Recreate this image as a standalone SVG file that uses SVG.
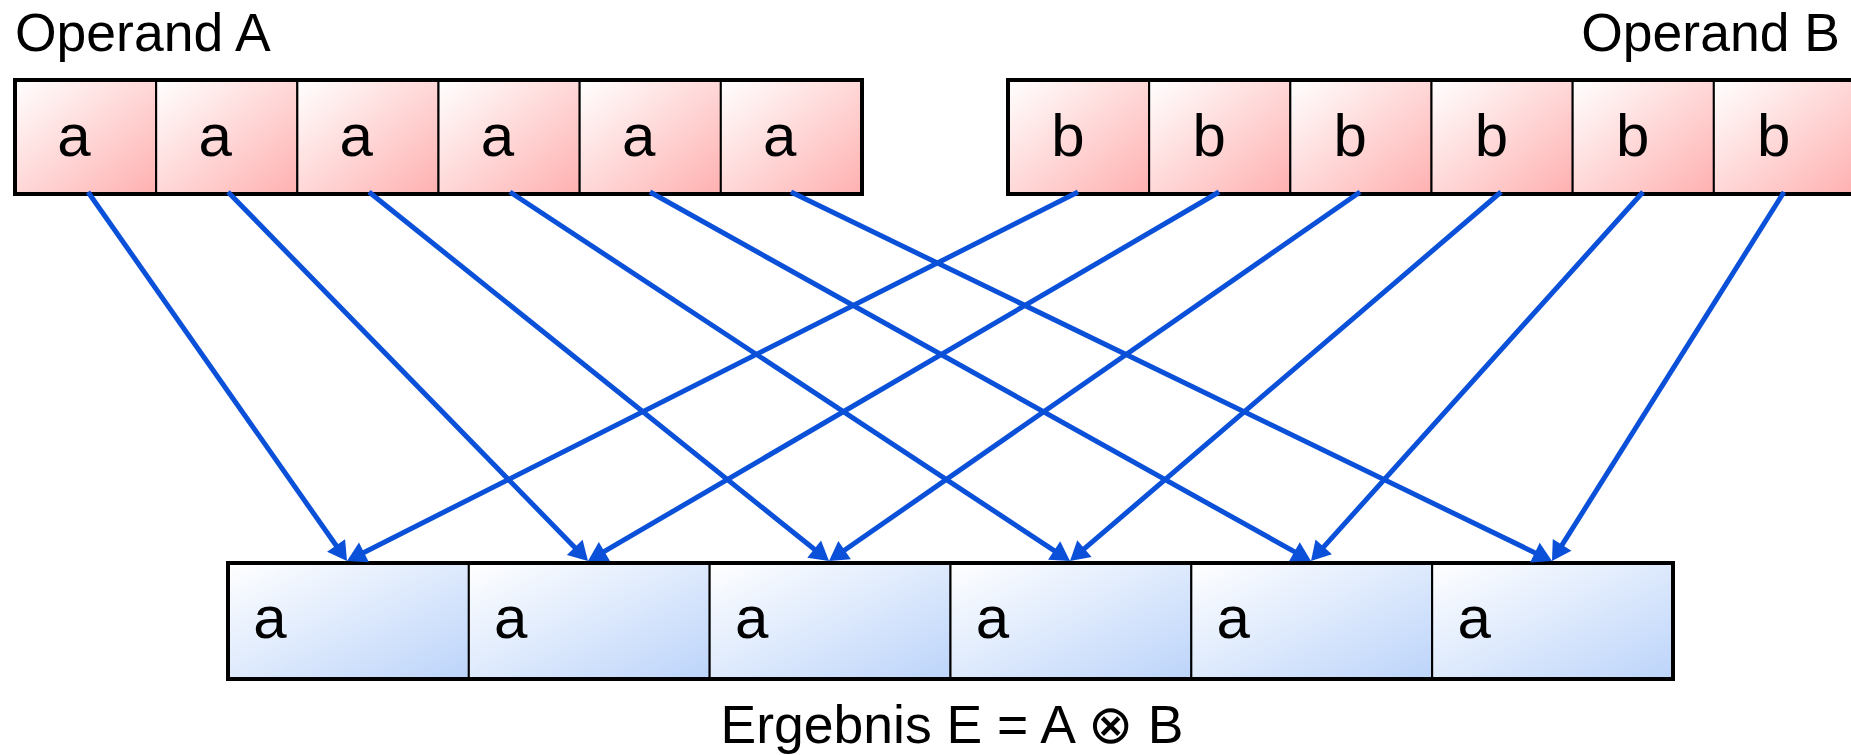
<svg xmlns="http://www.w3.org/2000/svg" width="1851" height="755" viewBox="0 0 1851 755">
  <style>
    .lbl { font-family: "Liberation Sans", Arial, sans-serif; font-size: 53.5px; fill: #000; }
    .op { font-family: "DejaVu Sans", sans-serif; font-weight: 200; }
    .cell-txt { font-family: "Liberation Sans", Arial, sans-serif; font-size: 60px; fill: #000; text-anchor: middle; }
    .red { fill: url(#gradRed); stroke: #000; stroke-width: 2; }
    .blue { fill: url(#gradBlue); stroke: #000; stroke-width: 2; }
    .frame { fill: none; stroke: #000; stroke-width: 4; }
    .conn { stroke: #0a50d8; stroke-width: 5; fill: none; marker-end: url(#arrow); }
  </style>
  <defs>
    <linearGradient id="gradRed" x1="0" y1="0" x2="1" y2="1">
      <stop offset="0" stop-color="#ffffff"/>
      <stop offset="1" stop-color="#ffb0b0"/>
    </linearGradient>
    <linearGradient id="gradBlue" x1="0" y1="0" x2="1" y2="1">
      <stop offset="0" stop-color="#ffffff"/>
      <stop offset="1" stop-color="#bcd4fa"/>
    </linearGradient>
    <marker id="arrow" markerUnits="userSpaceOnUse" markerWidth="30" markerHeight="30" refX="5" refY="0" orient="auto" overflow="visible">
      <path d="M0,-11 L19,0 L0,11 z" fill="#0a50d8"/>
    </marker>
  </defs>

  <!-- Titles -->
  <text class="lbl" x="15" y="51">Operand A</text>
  <text class="lbl" x="1840" y="51" text-anchor="end">Operand B</text>
  <text class="lbl" x="952" y="743" text-anchor="middle">Ergebnis E = A <tspan class="op">⊗</tspan> B</text>

  <!-- Operand A register -->
  <g id="operandA">
    <g id="a1"><rect class="red" x="15" y="80" width="141.17" height="114"/><text class="cell-txt" x="74" y="156">a</text></g>
    <g id="a2"><rect class="red" x="156.17" y="80" width="141.17" height="114"/><text class="cell-txt" x="215.2" y="156">a</text></g>
    <g id="a3"><rect class="red" x="297.33" y="80" width="141.17" height="114"/><text class="cell-txt" x="356.3" y="156">a</text></g>
    <g id="a4"><rect class="red" x="438.5" y="80" width="141.17" height="114"/><text class="cell-txt" x="497.5" y="156">a</text></g>
    <g id="a5"><rect class="red" x="579.67" y="80" width="141.17" height="114"/><text class="cell-txt" x="638.7" y="156">a</text></g>
    <g id="a6"><rect class="red" x="720.83" y="80" width="141.17" height="114"/><text class="cell-txt" x="779.8" y="156">a</text></g>
    <rect class="frame" x="15" y="80" width="847" height="114"/>
  </g>

  <!-- Operand B register -->
  <g id="operandB">
    <g id="b1"><rect class="red" x="1008" y="80" width="141.17" height="114"/><text class="cell-txt" x="1068" y="156">b</text></g>
    <g id="b2"><rect class="red" x="1149.17" y="80" width="141.17" height="114"/><text class="cell-txt" x="1209.2" y="156">b</text></g>
    <g id="b3"><rect class="red" x="1290.33" y="80" width="141.17" height="114"/><text class="cell-txt" x="1350.3" y="156">b</text></g>
    <g id="b4"><rect class="red" x="1431.5" y="80" width="141.17" height="114"/><text class="cell-txt" x="1491.5" y="156">b</text></g>
    <g id="b5"><rect class="red" x="1572.67" y="80" width="141.17" height="114"/><text class="cell-txt" x="1632.7" y="156">b</text></g>
    <g id="b6"><rect class="red" x="1713.83" y="80" width="141.17" height="114"/><text class="cell-txt" x="1773.8" y="156">b</text></g>
    <rect class="frame" x="1008" y="80" width="847" height="114"/>
  </g>

  <!-- Result register -->
  <g id="result">
    <g id="e1"><rect class="blue" x="228" y="563" width="240.83" height="116"/><text class="cell-txt" x="270" y="638">a</text></g>
    <g id="e2"><rect class="blue" x="468.83" y="563" width="240.83" height="116"/><text class="cell-txt" x="510.8" y="638">a</text></g>
    <g id="e3"><rect class="blue" x="709.67" y="563" width="240.83" height="116"/><text class="cell-txt" x="751.7" y="638">a</text></g>
    <g id="e4"><rect class="blue" x="950.5" y="563" width="240.83" height="116"/><text class="cell-txt" x="992.5" y="638">a</text></g>
    <g id="e5"><rect class="blue" x="1191.33" y="563" width="240.83" height="116"/><text class="cell-txt" x="1233.3" y="638">a</text></g>
    <g id="e6"><rect class="blue" x="1432.17" y="563" width="240.83" height="116"/><text class="cell-txt" x="1474.2" y="638">a</text></g>
    <rect class="frame" x="228" y="563" width="1445" height="116"/>
  </g>

  <!-- Connectors: each element of A and B feeds the matching result element -->
  <g id="connectors">
    <line class="conn" x1="88" y1="192" x2="338.96" y2="549.54"/>
    <line class="conn" x1="228" y1="192" x2="578.22" y2="550.98"/>
    <line class="conn" x1="369" y1="192" x2="818.08" y2="552.24"/>
    <line class="conn" x1="510" y1="192" x2="1058.31" y2="553.30"/>
    <line class="conn" x1="650" y1="192" x2="1298.78" y2="554.18"/>
    <line class="conn" x1="791" y1="192" x2="1539.40" y2="554.89"/>
    <line class="conn" x1="1078" y1="192" x2="359.50" y2="554.69"/>
    <line class="conn" x1="1219" y1="192" x2="600.08" y2="553.93"/>
    <line class="conn" x1="1360" y1="192" x2="840.50" y2="553.01"/>
    <line class="conn" x1="1501" y1="192" x2="1080.63" y2="551.90"/>
    <line class="conn" x1="1643" y1="192" x2="1320.36" y2="550.59"/>
    <line class="conn" x1="1784" y1="192" x2="1559.45" y2="549.15"/>
  </g>
</svg>
